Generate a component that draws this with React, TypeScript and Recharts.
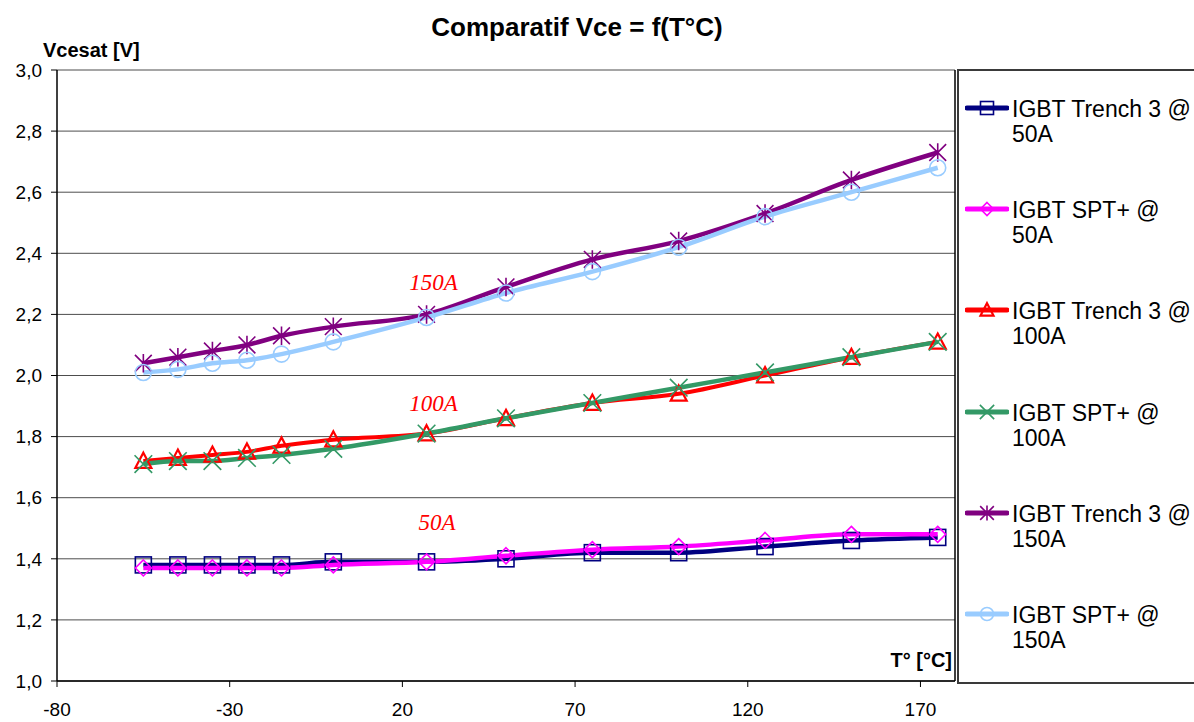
import React from 'react';
import {
  LineChart,
  Line,
  XAxis,
  YAxis,
  CartesianGrid,
  ReferenceLine,
  ReferenceDot,
  Legend,
} from 'recharts';

// ---------- data ----------
const temps = [-55, -45, -35, -25, -15, 0, 27, 50, 75, 100, 125, 150, 175];
const trench3_50A = [1.38, 1.38, 1.38, 1.38, 1.38, 1.39, 1.39, 1.4, 1.42, 1.42, 1.44, 1.46, 1.47];
const sptPlus_50A = [1.37, 1.37, 1.37, 1.37, 1.37, 1.38, 1.39, 1.41, 1.43, 1.44, 1.46, 1.48, 1.48];
const trench3_100A = [1.72, 1.73, 1.74, 1.75, 1.77, 1.79, 1.81, 1.86, 1.91, 1.94, 2.0, 2.06, 2.11];
const sptPlus_100A = [1.71, 1.72, 1.72, 1.73, 1.74, 1.76, 1.81, 1.86, 1.91, 1.96, 2.01, 2.06, 2.11];
const trench3_150A = [2.04, 2.06, 2.08, 2.1, 2.13, 2.16, 2.2, 2.29, 2.38, 2.44, 2.53, 2.64, 2.73];
const sptPlus_150A = [2.01, 2.02, 2.04, 2.05, 2.07, 2.11, 2.19, 2.27, 2.34, 2.42, 2.52, 2.6, 2.68];

const seriesNames = [
  'IGBT Trench 3 @ 50A',
  'IGBT SPT+ @ 50A',
  'IGBT Trench 3 @ 100A',
  'IGBT SPT+ @ 100A',
  'IGBT Trench 3 @ 150A',
  'IGBT SPT+ @ 150A',
];
const seriesKeys = ['t50', 's50', 't100', 's100', 't150', 's150'];
const seriesValues = [trench3_50A, sptPlus_50A, trench3_100A, sptPlus_100A, trench3_150A, sptPlus_150A];
const seriesColors = ['#000080', '#FF00FF', '#FF0000', '#339966', '#800080', '#99CCFF'];
const seriesShapes = ['square', 'diamond', 'triangle', 'x', 'star', 'circle'];

const xTicks = [-80, -30, 20, 70, 120, 170];
const yTicks = [1.0, 1.2, 1.4, 1.6, 1.8, 2.0, 2.2, 2.4, 2.6, 2.8, 3.0];

const annotationLabels = ['150A', '100A', '50A'];
const annotationX = [29, 29, 30];
const annotationY = [2.305, 1.912, 1.52];

const title = 'Comparatif Vce = f(T°C)';
const yTitle = 'Vcesat [V]';
const xTitle = 'T° [°C]';

const chartData = temps.map((t, i) => {
  const row: Record<string, number> = { t };
  seriesKeys.forEach((k, j) => {
    row[k] = seriesValues[j][i];
  });
  return row;
});

const SANS = '"Liberation Sans", Arial, Helvetica, sans-serif';
const SERIF = '"Liberation Serif", "Times New Roman", serif';

function Marker({ shape, color, cx, cy, s = 8 }: any) {
  if (cx == null || cy == null) return <g />;
  switch (shape) {
    case 'square':
      return (
        <rect x={cx - s} y={cy - s} width={2 * s} height={2 * s} fill="none" stroke={color} strokeWidth={1.6} />
      );
    case 'diamond':
      return (
        <path
          d={`M${cx},${cy - s}L${cx + s},${cy}L${cx},${cy + s}L${cx - s},${cy}Z`}
          fill="none"
          stroke={color}
          strokeWidth={1.6}
        />
      );
    case 'triangle':
      return (
        <path
          d={`M${cx},${cy - s * 1.05}L${cx + s},${cy + s * 0.85}L${cx - s},${cy + s * 0.85}Z`}
          fill="none"
          stroke={color}
          strokeWidth={2.2}
        />
      );
    case 'x': {
      const a = s * 1.1;
      return (
        <path
          d={`M${cx - a},${cy - a}L${cx + a},${cy + a}M${cx + a},${cy - a}L${cx - a},${cy + a}`}
          fill="none"
          stroke={color}
          strokeWidth={1.6}
        />
      );
    }
    case 'star': {
      const a = s * 1.05;
      return (
        <path
          d={`M${cx - a},${cy - a}L${cx + a},${cy + a}M${cx + a},${cy - a}L${cx - a},${cy + a}M${cx},${cy - a * 1.1}L${cx},${cy + a * 1.1}`}
          fill="none"
          stroke={color}
          strokeWidth={1.6}
        />
      );
    }
    case 'circle':
    default:
      return <circle cx={cx} cy={cy} r={s} fill="none" stroke={color} strokeWidth={1.6} />;
  }
}

const dotFor = (shape: string, color: string) => (props: any) => {
  const { cx, cy, index } = props;
  return (
    <g key={`${shape}-${index}`}>
      <Marker shape={shape} color={color} cx={cx} cy={cy} s={8} />
    </g>
  );
};

function LegendBox() {
  return (
    <div
      style={{
        width: 235,
        height: 611,
        border: '2px solid #3a3a3a',
        borderRight: 'none',
        background: '#fff',
        position: 'relative',
      }}
    >
      {seriesNames.map((n, i) => {
        const idx = n.lastIndexOf(' ');
        const l1 = n.slice(0, idx);
        const l2 = n.slice(idx + 1);
        return (
          <div
            key={n}
            style={{ position: 'absolute', left: 6, top: 26 + i * 101.2, display: 'flex', alignItems: 'flex-start' }}
          >
            <svg width={44} height={25} style={{ display: 'block' }}>
              <line x1={2} y1={11} x2={42} y2={11} stroke={seriesColors[i]} strokeWidth={5} strokeLinecap="round" />
              <Marker shape={seriesShapes[i]} color={seriesColors[i]} cx={22} cy={11} s={6.5} />
            </svg>
            <div
              style={{
                marginLeft: 3,
                fontFamily: SANS,
                fontSize: 23,
                lineHeight: '25px',
                color: '#000',
                whiteSpace: 'nowrap',
              }}
            >
              {l1}
              <br />
              {l2}
            </div>
          </div>
        );
      })}
    </div>
  );
}

export default function App() {
  return (
    <div
      style={{
        position: 'absolute',
        left: 0,
        top: 0,
        width: 1194,
        height: 722,
        background: '#fff',
        overflow: 'hidden',
      }}
    >
      <LineChart
        width={1194}
        height={722}
        data={chartData}
        margin={{ top: 70, right: 239, left: 0, bottom: 0 }}
      >
        <CartesianGrid vertical={false} stroke="#4d4d4d" strokeWidth={1} />
        <XAxis
          dataKey="t"
          type="number"
          domain={[-80, 180]}
          ticks={xTicks}
          height={41}
          tickSize={6}
          tickMargin={16}
          axisLine={{ stroke: '#000', strokeWidth: 1.5 }}
          tickLine={{ stroke: '#000' }}
          tick={{ fontSize: 19, fill: '#000', fontFamily: SANS }}
          interval={0}
        />
        <YAxis
          type="number"
          domain={[1, 3]}
          ticks={yTicks}
          width={57}
          tickSize={6}
          tickMargin={9}
          axisLine={{ stroke: '#000', strokeWidth: 1.5 }}
          tickLine={{ stroke: '#000' }}
          tick={{ fontSize: 19, fill: '#000', fontFamily: SANS }}
          tickFormatter={(v: number) => v.toFixed(1).replace('.', ',')}
          interval={0}
        />
        <ReferenceLine x={180} stroke="#000" strokeWidth={1.5} />
        {seriesKeys.map((k, i) => (
          <Line
            key={k}
            dataKey={k}
            name={seriesNames[i]}
            type="monotone"
            stroke={seriesColors[i]}
            strokeWidth={i === 2 ? 4 : 4.5}
            dot={dotFor(seriesShapes[i], seriesColors[i])}
            activeDot={false}
            isAnimationActive={false}
          />
        ))}
        {annotationLabels.map((lab, i) => (
          <ReferenceDot
            key={lab}
            x={annotationX[i]}
            y={annotationY[i]}
            r={1}
            fill="none"
            stroke="none"
            label={{
              value: lab,
              position: 'center',
              fill: '#FF0000',
              fontStyle: 'italic',
              fontFamily: SERIF,
              fontSize: 23,
            }}
          />
        ))}
        <Legend
          layout="horizontal"
          verticalAlign="middle"
          align="center"
          wrapperStyle={{ position: 'absolute', left: 957, top: 69, width: 237, height: 615 }}
          content={() => <LegendBox />}
        />
      </LineChart>
      <svg
        width={1194}
        height={722}
        style={{ position: 'absolute', left: 0, top: 0, pointerEvents: 'none' }}
      >
        <text x={577} y={36} textAnchor="middle" fontFamily={SANS} fontWeight="bold" fontSize={26} fill="#000">
          {title}
        </text>
        <text x={43} y={57} fontFamily={SANS} fontWeight="bold" fontSize={20} fill="#000">
          {yTitle}
        </text>
        <text x={952} y={667} textAnchor="end" fontFamily={SANS} fontWeight="bold" fontSize={20} fill="#000">
          {xTitle}
        </text>
      </svg>
    </div>
  );
}
